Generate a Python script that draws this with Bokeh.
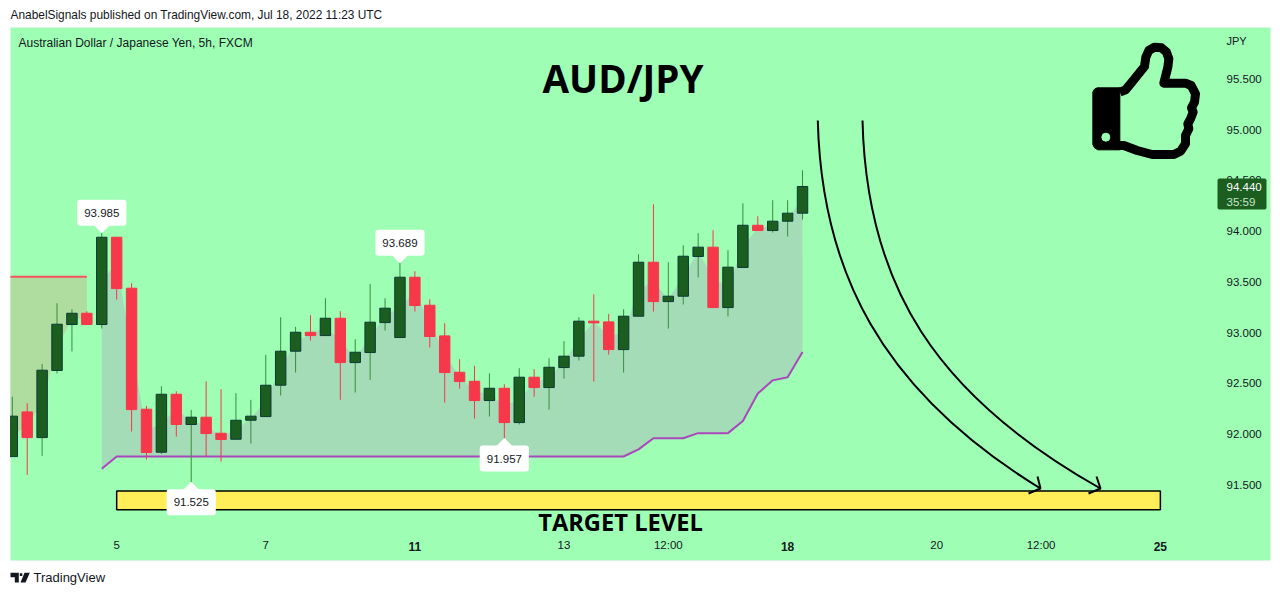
from bokeh.plotting import figure
from bokeh.embed import file_html
from bokeh.resources import INLINE
from bokeh.models import (BoxAnnotation, Label, PolyAnnotation, FixedTicker, Range1d)

# ---------- data ----------
opens = [91.779, 92.219, 91.966, 92.627, 93.080, 93.191, 93.080, 93.940, 93.438, 92.246,
         91.822, 92.393, 92.095, 92.167, 92.009, 91.950, 92.137, 92.173, 92.482, 92.817,
         93.004, 92.971, 93.142, 92.705, 92.804, 93.099, 92.952, 93.546, 93.270, 92.968,
         92.610, 92.521, 92.331, 92.452, 92.114, 92.561, 92.459, 92.656, 92.768, 93.113,
         93.106, 92.833, 93.162, 93.694, 93.306, 93.359, 93.750, 93.842, 93.247, 93.642,
         94.058, 94.006, 94.098, 94.177]
highs = [92.370, 92.305, 92.692, 93.290, 93.231, 93.211, 93.985, 93.940, 93.487, 92.278,
         92.472, 92.423, 92.239, 92.521, 92.443, 92.403, 92.338, 92.781, 93.152, 93.057,
         93.172, 93.339, 93.211, 92.935, 93.480, 93.339, 93.689, 93.605, 93.329, 93.093,
         92.738, 92.673, 92.600, 92.492, 92.650, 92.640, 92.748, 92.916, 93.152, 93.379,
         93.185, 93.231, 93.773, 94.265, 93.694, 93.861, 93.980, 94.009, 93.812, 94.275,
         94.147, 94.305, 94.305, 94.600]
lows = [91.779, 91.599, 91.786, 92.597, 92.814, 93.080, 93.040, 93.326, 92.026, 91.750,
        91.806, 91.976, 91.525, 91.779, 91.730, 91.950, 91.907, 92.173, 92.380, 92.607,
        92.922, 92.971, 92.338, 92.410, 92.535, 93.021, 92.952, 93.208, 92.853, 92.311,
        92.449, 92.154, 92.173, 91.957, 92.095, 92.370, 92.242, 92.548, 92.725, 92.518,
        92.784, 92.607, 93.162, 93.208, 93.040, 93.277, 93.543, 93.247, 93.159, 93.642,
        94.006, 93.986, 93.947, 94.114]
closes = [92.177, 91.966, 92.630, 93.083, 93.191, 93.080, 93.940, 93.434, 92.242, 91.819,
          92.393, 92.095, 92.167, 92.006, 91.947, 92.137, 92.177, 92.482, 92.817, 93.004,
          92.971, 93.142, 92.705, 92.807, 93.103, 93.241, 93.546, 93.267, 92.962, 92.607,
          92.518, 92.331, 92.452, 92.114, 92.561, 92.459, 92.659, 92.768, 93.113, 93.096,
          92.833, 93.162, 93.694, 93.306, 93.359, 93.753, 93.842, 93.247, 93.645, 94.058,
          94.006, 94.098, 94.177, 94.440]
stop_up = [91.66] + [91.78] * 35 + [91.85, 91.96, 91.96, 91.96, 92.01, 92.01, 92.01, 92.13, 92.40, 92.53, 92.56, 92.81]
stop_down_level = 93.55
leading_mid = 91.96
price_ticks = [91.5, 92.0, 92.5, 93.0, 93.5, 94.0, 94.5, 95.0, 95.5]
time_ticks = {7: "5", 17: "7", 37: "13", 44: "12:00", 62: "20", 69: "12:00"}
bold_ticks = {27: "11", 52: "18", 77: "25"}
callouts_up = {6: "93.985", 26: "93.689"}
callouts_down = {12: "91.525", 33: "91.957"}
target_low, target_high = 91.254, 91.44
target_start, target_end = 7, 77

BG = "#9effb4"; UP = "#1b5e20"; UPB = "#0c3b33"; UPW = "#388e3c"; DN = "#f7374a"
FONT = "Liberation Sans"

# ---------- page geometry helpers (annotation drawings only) ----------
W_PAGE, H_PAGE = 1280, 595
X = lambda px: (px - 11.8) / 14.91
Y = lambda py: 95.5 - (py - 78.4) / 101.5
xr = Range1d(X(0), X(W_PAGE)); yr = Range1d(Y(H_PAGE), Y(0))
pane_left = X(10)

p = figure(width=W_PAGE, height=H_PAGE, x_range=xr, y_range=yr, output_backend="svg",
           toolbar_location=None, y_axis_location="right", min_border=0,
           border_fill_color="white", background_fill_color="white", outline_line_color=None)
p.grid.visible = False

def canvas_box(l, r, t, b, **kw):
    return BoxAnnotation(left=l, right=r, top=t, bottom=b, left_units="canvas", right_units="canvas",
                         top_units="canvas", bottom_units="canvas", fill_alpha=1, **kw)

p.add_layout(canvas_box(10, 1270, 27, 560, fill_color=BG, line_color="#e0e3eb", line_width=1, level="underlay"))

xa = p.xaxis[0]
xa.ticker = FixedTicker(ticks=list(time_ticks))
xa.major_label_overrides = dict(time_ticks)
xa.axis_line_color = None; xa.major_tick_line_color = None; xa.minor_tick_line_color = None
xa.major_label_text_font = FONT; xa.major_label_text_font_size = "11.5px"
xa.major_label_text_color = "#131722"; xa.major_label_standoff = -63
ya = p.yaxis[0]
ya.ticker = FixedTicker(ticks=price_ticks)
ya.major_label_overrides = {t: f"{t:.3f}" for t in price_ticks}
ya.axis_line_color = None; ya.major_tick_line_color = None; ya.minor_tick_line_color = None
ya.major_label_text_font = FONT; ya.major_label_text_font_size = "11.5px"
ya.major_label_text_color = "#131722"; ya.major_label_standoff = -60

# ---------- fills ----------
mid = [(o + c) / 2 for o, c in zip(opens, closes)]
idx = list(range(len(opens)))
p.varea(x=[pane_left] + idx[:6], y1=[leading_mid] + mid[:6], y2=[stop_down_level] * 7, fill_color="#aedd9f")
p.line(x=[pane_left, 5], y=[stop_down_level] * 2, line_color="#f7525f", line_width=2)
p.varea(x=idx[6:], y1=mid[6:], y2=stop_up, fill_color="#a5dcb8")
p.line(x=idx[6:], y=stop_up, line_color="#ab47bc", line_width=2)

# ---------- candles ----------
W = 0.70
up = [i for i in idx if closes[i] >= opens[i]]
dn = [i for i in idx if closes[i] < opens[i]]
p.segment(up, [highs[i] for i in up], up, [lows[i] for i in up], line_color=UPW, line_width=1)
p.segment(dn, [highs[i] for i in dn], dn, [lows[i] for i in dn], line_color=DN, line_width=1)
p.vbar(x=up, width=W, bottom=[opens[i] for i in up], top=[closes[i] for i in up], fill_color=UP, line_color=UPB, line_width=1)
p.vbar(x=dn, width=W, bottom=[closes[i] for i in dn], top=[opens[i] for i in dn], fill_color=DN, line_color=DN, line_width=1)

# mask that trims what runs past the pane's left edge
p.add_layout(canvas_box(-2, 9.5, 27, 561, fill_color="white", line_color=None))

# ---------- target ----------
p.quad(left=target_start, right=target_end, bottom=target_low, top=target_high,
       fill_color="#ffee58", line_color="black", line_width=1.5)

# ---------- arrows ----------
for a, c1, c2, b, h1, h2 in (((817.3, 120), (821, 270), (880, 390), (1040, 488), (1037, 476), (1028, 493)),
                             ((862, 120), (866, 285), (935, 395), (1100, 488), (1096, 476), (1088, 493))):
    p.bezier(x0=[X(a[0])], y0=[Y(a[1])], x1=[X(b[0])], y1=[Y(b[1])], cx0=[X(c1[0])], cy0=[Y(c1[1])],
             cx1=[X(c2[0])], cy1=[Y(c2[1])], line_color="black", line_width=2)
    p.line([X(h1[0]), X(b[0]), X(h2[0])], [Y(h1[1]), Y(b[1]), Y(h2[1])], line_color="black", line_width=2)

# ---------- thumb icon ----------
zx = lambda z: 1080 + z / 3
zy = lambda z: 30 + z / 3
thumb = [(118, 185), (135, 178), (150, 160), (192, 108), (196, 80), (205, 60), (222, 50), (243, 52), (258, 65),
         (265, 85), (262, 110), (250, 158), (315, 158), (332, 165), (345, 190), (342, 215), (333, 232), (338, 245),
         (330, 265), (322, 280), (325, 295), (315, 315), (315, 340), (300, 362), (280, 372), (215, 372),
         (170, 360), (130, 345), (100, 345)]
p.line([X(zx(a)) for a, b in thumb], [Y(zy(b)) for a, b in thumb], line_color="black", line_width=9,
       line_join="round")
cuff = [(50, 172), (118, 172), (118, 358), (52, 358), (42, 352), (37, 342), (37, 185), (42, 176)]
p.patch([X(zx(a)) for a, b in cuff], [Y(zy(b)) for a, b in cuff], fill_color="black", line_color="black")
p.scatter([X(zx(76))], [Y(zy(320))], size=8, fill_color=BG, line_color=BG)

# ---------- labels ----------
def lab(px, py, text, size="11.5px", color="#131722", align="left", style="normal", font=FONT):
    p.add_layout(Label(x=px, y=H_PAGE - py, x_units="screen", y_units="screen", text=text, text_font=font,
                       text_font_size=size, text_color=color, text_align=align, text_baseline="middle",
                       text_font_style=style))

# callouts
PW, PH = 8 / 14.91, 8 / 101.5
for i, t in callouts_up.items():
    p.patch([i - PW, i + PW, i], [highs[i] + PH] * 2 + [highs[i]], fill_color="white", line_color="white")
    p.add_layout(Label(x=i, y=highs[i], y_offset=20, text=t, text_font=FONT, text_font_size="11.5px", text_color="#131722",
                       text_align="center", text_baseline="middle", padding=(7, 9), background_fill_color="white",
                       border_radius=3))
for i, t in callouts_down.items():
    p.patch([i - PW, i + PW, i], [lows[i] - PH] * 2 + [lows[i]], fill_color="white", line_color="white")
    p.add_layout(Label(x=i, y=lows[i], y_offset=-20, text=t, text_font=FONT, text_font_size="11.5px", text_color="#131722",
                       text_align="center", text_baseline="middle", padding=(7, 9), background_fill_color="white",
                       border_radius=3))

for i, t in bold_ticks.items():
    p.add_layout(Label(x=i, y=H_PAGE - 545.5, y_units="screen", text=t, text_font=FONT, text_font_size="12px",
                       text_font_style="bold", text_color="#131722", text_align="center", text_baseline="middle"))

lab(10, 14, "AnabelSignals published on TradingView.com, Jul 18, 2022 11:23 UTC", size="11.9px")
lab(18, 42, "Australian Dollar / Japanese Yen, 5h, FXCM", size="12px")
lab(1226, 40, "JPY", size="11px")
lab(622.5, 77.5, "AUD/JPY", size="38.5px", color="black", align="center", style="bold", font="Open Sans")
lab(620, 521.5, "TARGET LEVEL", size="23.7px", color="black", align="center", style="bold", font="Open Sans")
lab(33, 577, "TradingView", size="13px")

p.add_layout(canvas_box(1217, 1266, 178, 209, fill_color=UP, line_color=None, border_radius=2))
lab(1226, 186, "94.440", color="white")
lab(1226, 201, "35:59", color="#c8e6c9")

# TradingView logo
logo = [[(10, 572.3), (18.3, 572.3), (18.3, 582), (14.3, 582), (14.3, 576.7), (10, 576.7)],
        [(24, 572.3), (29.3, 572.3), (25, 582), (20, 582)],
        [(19.3, 572.8), (21.8, 572.8), (21.8, 575.5), (19.3, 575.5)]]
for poly in logo:
    p.add_layout(PolyAnnotation(xs=[a for a, b in poly], ys=[b for a, b in poly], xs_units="canvas", ys_units="canvas",
                                fill_color="#131722", fill_alpha=1, line_color=None))

open("out.html", "w").write(file_html(p, INLINE))
